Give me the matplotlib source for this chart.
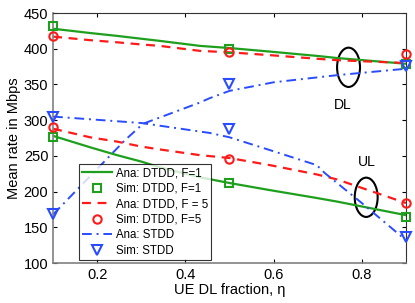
import numpy as np
import matplotlib
matplotlib.use('Agg')
import matplotlib.pyplot as plt
from matplotlib.patches import Ellipse

plt.rcParams['font.family'] = ['Liberation Sans', 'DejaVu Sans']

# Analytical curves
eta_ana = [0.1, 0.184, 0.245, 0.3, 0.342, 0.433, 0.5, 0.592, 0.698, 0.744, 0.9]
ana_f1_dl = [428, 422, 418, 414, 411, 404, 401, 396, 390, 387, 379]
ana_f5_dl = [417, 412, 409, 406, 404, 397, 395, 391, 386, 384, 380]
ana_f1_ul = [278, 262, 251, 242, 234, 220, 212, 202, 191, 186, 167]
ana_f5_ul = [288, 276, 270, 263, 259, 251, 247, 237, 224, 217, 184]

eta_stdd_dl = [0.1, 0.263, 0.304, 0.43, 0.456, 0.5, 0.6, 0.744, 0.9]
ana_stdd_dl = [168, 272, 295, 324, 331, 341, 353, 363, 372]
eta_stdd_ul = [0.1, 0.3, 0.456, 0.5, 0.592, 0.698, 0.716, 0.8, 0.9]
ana_stdd_ul = [305, 296, 282, 276, 258, 237, 226, 184, 132]

# Simulation points
eta_sim = [0.1, 0.5, 0.9]
sim_f1_dl = [432, 400, 378]
sim_f1_ul = [276, 212, 165]
sim_f5_dl = [418, 395, 392]
sim_f5_ul = [290, 246, 184]
sim_stdd_dl = [168, 350, 376]
sim_stdd_ul = [305, 288, 137]

green = '#1ea01e'
red = '#ff1a1a'
blue = '#2a4cff'

fig = plt.figure(figsize=(4.15, 3.03), dpi=100)
ax = fig.add_axes([0.128, 0.132, 0.85, 0.825])

mk = dict(mfc='none', mew=1.5, clip_on=False, zorder=4)

ax.plot(eta_ana, ana_f1_dl, '-', color=green, lw=1.6, label='Ana: DTDD, F=1')
ax.plot(eta_sim, sim_f1_dl, 's', color=green, ms=6, label='Sim: DTDD, F=1', **mk)
ax.plot(eta_ana, ana_f5_dl, '--', color=red, lw=1.6, dashes=(4, 3), label='Ana: DTDD, F = 5')
ax.plot(eta_sim, sim_f5_dl, 'o', color=red, ms=6, label='Sim: DTDD, F=5', **mk)
ax.plot(eta_stdd_dl, ana_stdd_dl, '-.', color=blue, lw=1.4, dashes=(5, 2.5, 1, 2.5), label='Ana: STDD')
ax.plot(eta_sim, sim_stdd_dl, 'v', color=blue, ms=7, label='Sim: STDD', **mk)

ax.plot(eta_ana, ana_f1_ul, '-', color=green, lw=1.6)
ax.plot(eta_sim, sim_f1_ul, 's', color=green, ms=6, **mk)
ax.plot(eta_ana, ana_f5_ul, '--', color=red, lw=1.6, dashes=(4, 3))
ax.plot(eta_sim, sim_f5_ul, 'o', color=red, ms=6, **mk)
ax.plot(eta_stdd_ul, ana_stdd_ul, '-.', color=blue, lw=1.4, dashes=(5, 2.5, 1, 2.5))
ax.plot(eta_sim, sim_stdd_ul, 'v', color=blue, ms=7, **mk)

# DL / UL markers
ax.add_patch(Ellipse((0.77, 374), 0.052, 55, fill=False, ec='black', lw=1.5))
ax.add_patch(Ellipse((0.81, 192), 0.052, 55, fill=False, ec='black', lw=1.5))
ax.text(0.757, 321, 'DL', fontsize=10, ha='center', va='center')
ax.text(0.811, 241, 'UL', fontsize=10, ha='center', va='center')

ax.set_xlim(0.1, 0.9)
ax.set_ylim(100, 450)
ax.set_xticks([0.2, 0.4, 0.6, 0.8])
ax.set_yticks(np.arange(100, 451, 50))
ax.tick_params(direction='in', top=True, right=True, labelsize=10.5, length=3)
ax.set_xlabel('UE DL fraction, η', fontsize=10.5, labelpad=1)
ax.set_ylabel('Mean rate in Mbps', fontsize=10.5, labelpad=2)
for s in ['left', 'bottom']:
    ax.spines[s].set_color('#808080')
    ax.spines[s].set_linewidth(1.2)
for s in ['top', 'right']:
    ax.spines[s].set_color('#333333')

leg = ax.legend(loc='lower left', bbox_to_anchor=(0.073, 0.012), fontsize=8.3,
                frameon=True, fancybox=False, edgecolor='black', borderpad=0.3,
                labelspacing=0.3, handlelength=2.6, handletextpad=0.3, borderaxespad=0)
leg.get_frame().set_linewidth(0.8)
leg.set_zorder(5)

fig.savefig('out.png', dpi=100)
